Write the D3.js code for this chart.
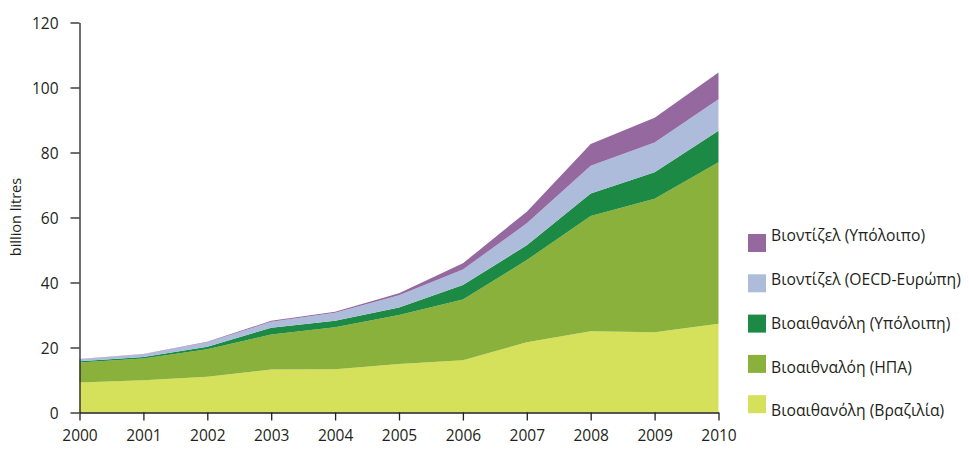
<!DOCTYPE html>
<html><head><meta charset="utf-8">
<script src="https://cdn.jsdelivr.net/npm/d3@7"></script>
<style>
body{margin:0;background:#fff;}
text{font-family:"Open Sans",sans-serif;fill:#231f20;}
</style></head>
<body><svg id="c" width="969" height="450"></svg>
<script>
const years = [2000,2001,2002,2003,2004,2005,2006,2007,2008,2009,2010];
const seriesNames = ["Βιοαιθανόλη (Βραζιλία)","Βιοαιθναλόη (ΗΠΑ)","Βιοαιθανόλη (Υπόλοιπη)","Βιοντίζελ (OECD-Ευρώπη)","Βιοντίζελ (Υπόλοιπο)"];
const ethanolBrazil = [9.2, 9.9, 11.0, 13.2, 13.3, 14.9, 16.1, 21.6, 25.0, 24.7, 27.3];
const ethanolUSA    = [6.2, 6.7, 8.5, 10.8, 12.9, 15.1, 18.7, 25.3, 35.5, 41.1, 49.7];
const ethanolOther  = [0.4, 0.5, 0.7, 2.1, 2.0, 2.3, 4.4, 4.6, 6.9, 8.1, 9.7];
const biodieselEU   = [0.6, 0.8, 1.4, 1.8, 2.5, 3.8, 4.8, 6.7, 8.5, 9.2, 9.7];
const biodieselOther= [0.1, 0.1, 0.2, 0.3, 0.3, 0.6, 1.9, 3.6, 6.7, 7.6, 8.2];
const yTicks = [0,20,40,60,80,100,120];
const colors = ["#d5e05b","#8ab13c","#1c8a44","#adbcdb","#95699f"];

const seriesData = [ethanolBrazil, ethanolUSA, ethanolOther, biodieselEU, biodieselOther];
const table = years.map((y,i)=>{const o={year:y}; seriesNames.forEach((n,k)=>o[n]=seriesData[k][i]); return o;});
const stacked = d3.stack().keys(seriesNames)(table);

const svg = d3.select("#c");
const x = d3.scaleLinear().domain([2000,2010]).range([79.5,718.5]);
const y = d3.scaleLinear().domain([0,120]).range([412.5,22.5]);

const area = d3.area().x(d=>x(d.data.year)).y0(d=>y(d[0])).y1(d=>y(d[1]));
svg.append("g").selectAll("path").data(stacked).join("path")
  .attr("d",area).attr("fill",(d,i)=>colors[i]);

const xAxis = svg.append("g").attr("transform","translate(0,412.5)")
  .call(d3.axisBottom(x).tickValues(years).tickFormat(d3.format("d")).tickSize(8).tickSizeOuter(0));
const yAxis = svg.append("g").attr("transform","translate(79.5,0)")
  .call(d3.axisLeft(y).tickValues(yTicks).tickSize(9).tickSizeOuter(0).tickPadding(12));
[xAxis,yAxis].forEach(g=>{
  g.select(".domain").attr("stroke","#231f20").attr("stroke-width",1.3);
  g.selectAll(".tick line").attr("stroke","#231f20").attr("stroke-width",1.3);
  g.selectAll(".tick text").style("font-size","15.5px").attr("fill","#231f20");
});
xAxis.selectAll(".tick text").attr("dy","1.15em");
yAxis.selectAll(".tick text").attr("dy","0.36em");

svg.append("text").attr("transform","translate(21,217) rotate(-90)")
  .attr("text-anchor","middle").style("font-size","14.5px").text("billion litres");

const legendOrder = [4,3,2,1,0];
const lg = svg.append("g");
legendOrder.forEach((k,j)=>{
  lg.append("rect").attr("x",748).attr("y",234+j*40.3).attr("width",18).attr("height",18).attr("fill",colors[k]);
  lg.append("text").attr("x",771).attr("y",236+j*43.75).attr("dy","0.35em")
    .style("font-size","15.7px").text(seriesNames[k]);
});
</script></body></html>
